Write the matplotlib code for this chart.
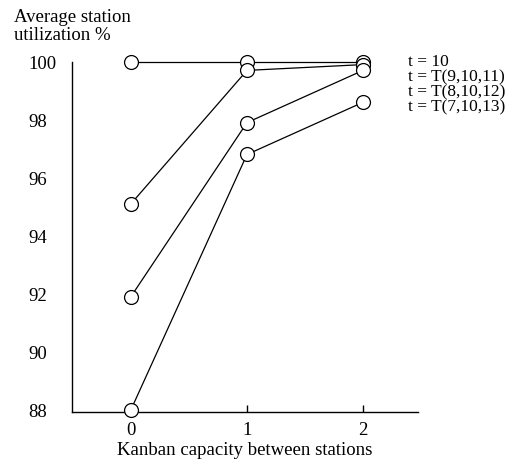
import matplotlib
matplotlib.use("Agg")
import matplotlib.pyplot as plt

# kanban capacity between stations
capacity = [0, 1, 2]

# average station utilization (%) per processing time distribution
labels = ['t = 10', 't = T(9,10,11)', 't = T(8,10,12)', 't = T(7,10,13)']
util_t10 = [100.0, 100.0, 100.0]
util_t9 = [95.1, 99.7, 99.9]
util_t8 = [91.9, 97.9, 99.7]
util_t7 = [88.0, 96.8, 98.6]

yticks = [88, 90, 92, 94, 96, 98, 100]

plt.rcParams['font.family'] = ['Liberation Serif', 'DejaVu Serif']
fs = 13.5

fig = plt.figure(figsize=(5.24, 4.60), dpi=100)
ax = fig.add_axes([0.1368, 0.1028, 0.6609, 0.7609])

for vals in [util_t10, util_t9, util_t8, util_t7]:
    ax.plot(capacity, vals, color='black', lw=0.9, marker='o', ms=10,
            mfc='white', mec='black', mew=0.9, clip_on=False, zorder=3)

ax.set_xlim(-0.511, 2.474)
ax.set_ylim(87.93, 100)

for s in ['top', 'right']:
    ax.spines[s].set_visible(False)
for s in ['left', 'bottom']:
    ax.spines[s].set_linewidth(1.0)

ax.set_xticks(capacity)
ax.set_xticklabels([str(c) for c in capacity], fontsize=fs)
ax.tick_params(axis='x', direction='in', length=5, width=1, pad=7)

ax.set_yticks(yticks)
ax.set_yticklabels([str(v) for v in yticks], fontsize=fs, ha='left')
ax.tick_params(axis='y', length=0, pad=31)

ax.set_xlabel('Kanban capacity between stations', fontsize=fs, labelpad=1.5)

fig.text(14 / 524, 1 - 17 / 460, 'Average station', fontsize=fs,
         ha='left', va='center')
fig.text(14 / 524, 1 - 36 / 460, 'utilization %', fontsize=fs,
         ha='left', va='center')

# series labels stacked at the right, no handles
for i, lab in enumerate(labels):
    fig.text(408 / 524, 1 - (62 + 15 * i) / 460, lab, fontsize=12.5,
             ha='left', va='center')

fig.savefig('out.png', dpi=100, facecolor='white')
